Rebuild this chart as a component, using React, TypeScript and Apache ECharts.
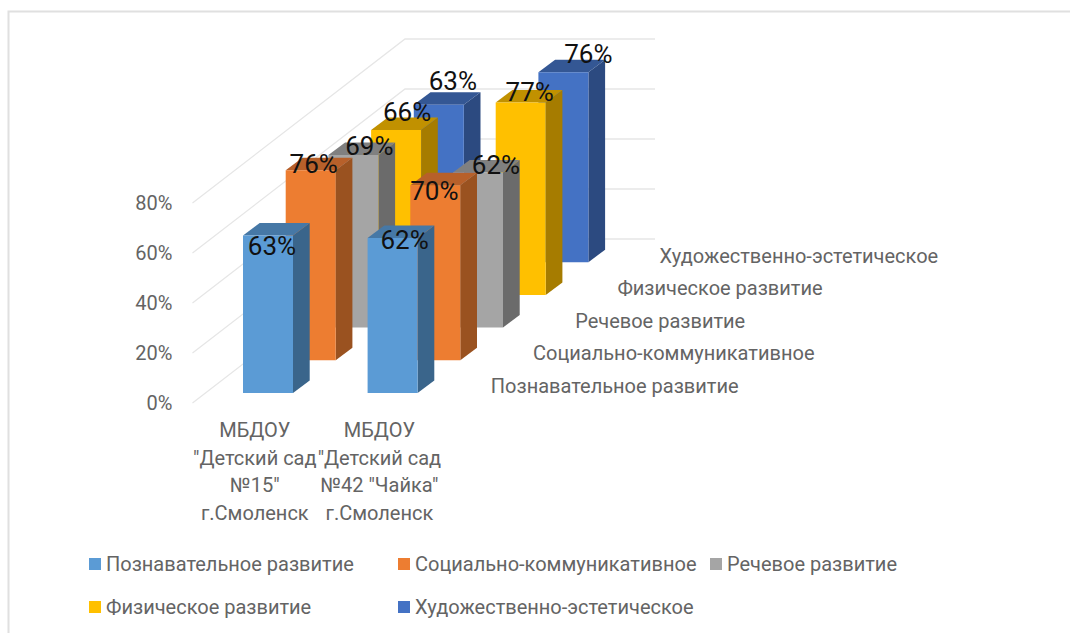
import React, { useEffect, useRef } from "react";
import * as echarts from "echarts";

const kindergartens = [
  'МБДОУ\n"Детский сад\n№15"\nг.Смоленск',
  'МБДОУ\n"Детский сад\n№42 "Чайка"\nг.Смоленск',
];
const areas = [
  "Познавательное развитие",
  "Социально-коммуникативное",
  "Речевое развитие",
  "Физическое развитие",
  "Художественно-эстетическое",
];
const cognitive = [63, 62];
const social = [76, 70];
const speech = [69, 62];
const physical = [66, 77];
const artistic = [63, 76];
const percentTicks = [0, 20, 40, 60, 80];

const valuesByArea = [cognitive, social, speech, physical, artistic];

// Face colours of each bar: front, side, top.
const faces = [
  ["#5B9BD5", "#3A658B", "#4678A6"],
  ["#ED7D31", "#9A5220", "#B7602A"],
  ["#A5A5A5", "#6B6B6B", "#808080"],
  ["#FFC000", "#A67C00", "#C19100"],
  ["#4472C4", "#2C4A80", "#345794"],
];

// Oblique projection of the chart's depth axis.
const ROW_DX = 42.7;
const ROW_DY = 32.7;
const BAR_W = 50;
const SIDE_DX = 16.7;
const SIDE_DY = 12.5;
const FLOOR_DX = 212.5;
const FLOOR_DY = 164;
const WALL_W = 250;
const FRONT_GAP = 10;
const BAR_SHIFT = -11.8;

// Hand placement of the value labels, relative to each bar's top front centre.
const labelShift = [
  [[4, 10], [12, 2]],
  [[3, -6], [-1, 6]],
  [[16, -9], [18, -8]],
  [[11, -18], [9, -10]],
  [[14, -24], [25, -18]],
];

const FONT = "Roboto, sans-serif";
const GREY = "#646464";

function barGeometry(api: any, row: number) {
  const cat = api.value(0);
  const [cx, y0] = api.coord([cat, 0]);
  const x = cx + BAR_SHIFT + row * ROW_DX;
  const base = y0 - FRONT_GAP - row * ROW_DY;
  const top = base - api.size([0, api.value(1)])[1];
  return { x, base, top };
}

function App() {
  const ref = useRef<HTMLDivElement>(null);

  useEffect(() => {
    document.body.style.margin = "0";
    const chart = echarts.init(ref.current!, null, { renderer: "svg" });

    // Back rows are painted first so nearer bars cover them.
    const barSeries = areas.map((name, row) => ({
      type: "custom",
      name,
      coordinateSystem: "cartesian2d",
      z: 10 - row,
      itemStyle: { color: faces[row][0] },
      encode: { x: 0, y: 1 },
      data: valuesByArea[row].map((v, i) => [i, v]),
      renderItem: (_: any, api: any) => {
        const { x, base, top } = barGeometry(api, row);
        const r = x + BAR_W;
        const poly = (points: number[][], fill: string) => ({
          type: "polygon",
          shape: { points },
          style: { fill },
        });
        return {
          type: "group",
          children: [
            poly([[r, base], [r, top], [r + SIDE_DX, top - SIDE_DY], [r + SIDE_DX, base - SIDE_DY]], faces[row][1]),
            poly([[x, top], [r, top], [r + SIDE_DX, top - SIDE_DY], [x + SIDE_DX, top - SIDE_DY]], faces[row][2]),
            poly([[x, base], [r, base], [r, top], [x, top]], faces[row][0]),
          ],
        };
      },
    }));

    const valueLabels = areas.map((_, row) => ({
      type: "custom",
      coordinateSystem: "cartesian2d",
      z: 20,
      silent: true,
      encode: { x: 0, y: 1 },
      data: valuesByArea[row].map((v, i) => [i, v]),
      renderItem: (params: any, api: any) => {
        const { x, top } = barGeometry(api, row);
        const [dx, dy] = labelShift[row][params.dataIndex];
        return {
          type: "text",
          style: {
            x: x + BAR_W / 2 + dx,
            y: top + dy,
            text: `${api.value(1)}%`,
            fill: "#111",
            font: `26px ${FONT}`,
            align: "center",
            verticalAlign: "middle",
          },
        };
      },
    }));

    // Floor and back wall lines, one per axis tick.
    const wallLines = {
      type: "custom",
      coordinateSystem: "cartesian2d",
      z: 1,
      silent: true,
      encode: { x: 0, y: 1 },
      data: percentTicks.map((v) => [0, v]),
      renderItem: (_: any, api: any) => {
        const [cx, y] = api.coord([0, api.value(1)]);
        const left = cx - api.size([1, 0])[0] / 2;
        const cornerX = left + FLOOR_DX;
        const cornerY = y - FLOOR_DY;
        return {
          type: "polyline",
          shape: { points: [[left, y], [cornerX, cornerY], [cornerX + WALL_W, cornerY]] },
          style: { stroke: "#e6e6e6", lineWidth: 1.3, fill: "none" },
        };
      },
    };

    // Names along the depth axis, stepping back with each row.
    const depthLabels = {
      type: "custom",
      coordinateSystem: "cartesian2d",
      z: 5,
      silent: true,
      encode: { x: 0, y: 1 },
      data: areas.map((_, row) => [0, 0, row]),
      renderItem: (_: any, api: any) => {
        const row = api.value(2);
        const [cx, y0] = api.coord([0, 0]);
        return {
          type: "text",
          style: {
            x: cx + 236 + row * 42.2,
            y: y0 - 17 - row * 32.6,
            text: areas[row],
            fill: GREY,
            font: `20px ${FONT}`,
            align: "left",
            verticalAlign: "middle",
          },
        };
      },
    };

    const legendSlot = (index: number, left: number, top: number) => ({
      data: [areas[index]],
      left,
      top,
      orient: "horizontal",
      itemWidth: 12,
      itemHeight: 12,
      icon: "rect",
      selectedMode: false,
      textStyle: { color: GREY, fontSize: 20, fontFamily: FONT },
    });

    chart.setOption({
      animation: false,
      backgroundColor: "#fff",
      grid: { left: 192.5, top: 203, width: 249.2, height: 200 },
      xAxis: {
        type: "category",
        data: kindergartens,
        axisLine: { show: false },
        axisTick: { show: false },
        splitLine: { show: false },
        axisLabel: {
          interval: 0,
          color: GREY,
          fontSize: 20,
          fontFamily: FONT,
          lineHeight: 27.7,
          margin: 13,
          align: "center",
        },
      },
      yAxis: {
        type: "value",
        min: 0,
        max: 80,
        interval: 20,
        axisLine: { show: false },
        axisTick: { show: false },
        splitLine: { show: false },
        axisLabel: {
          color: GREY,
          fontSize: 20,
          fontFamily: FONT,
          margin: 20,
          formatter: "{value}%",
        },
      },
      legend: [
        legendSlot(0, 84, 549),
        legendSlot(1, 393, 549),
        legendSlot(2, 705, 549),
        legendSlot(3, 84, 592),
        legendSlot(4, 393, 592),
      ],
      graphic: [
        {
          type: "polyline",
          silent: true,
          shape: { points: [[8.5, 633], [8.5, 11.5], [1070, 11.5]] },
          style: { stroke: "#e0e0e0", lineWidth: 2, fill: "none" },
        },
      ],
      series: [wallLines, depthLabels, ...barSeries, ...valueLabels],
    });

    return () => chart.dispose();
  }, []);

  return <div ref={ref} style={{ position: "fixed", left: 0, top: 0, width: 1070, height: 633 }} />;
}

export default App;
